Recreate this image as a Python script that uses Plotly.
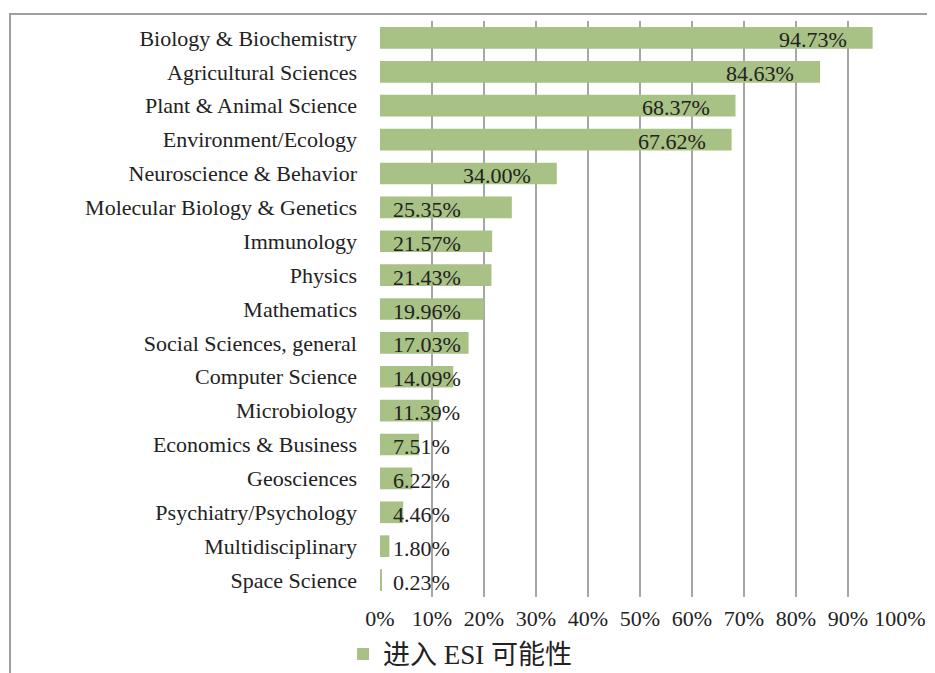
import plotly.graph_objects as go

categories = ["Biology & Biochemistry", "Agricultural Sciences", "Plant & Animal Science",
              "Environment/Ecology", "Neuroscience & Behavior", "Molecular Biology & Genetics",
              "Immunology", "Physics", "Mathematics", "Social Sciences, general",
              "Computer Science", "Microbiology", "Economics & Business", "Geosciences",
              "Psychiatry/Psychology", "Multidisciplinary", "Space Science"]
values = [94.73, 84.63, 68.37, 67.62, 34.00, 25.35, 21.57, 21.43, 19.96, 17.03,
          14.09, 11.39, 7.51, 6.22, 4.46, 1.80, 0.23]
tick_vals = [0, 10, 20, 30, 40, 50, 60, 70, 80, 90, 100]
tick_text = ["0%", "10%", "20%", "30%", "40%", "50%", "60%", "70%", "80%", "90%", "100%"]
series_name = "进入 ESI 可能性"

FONT = "Liberation Serif, Times New Roman, Noto Sans CJK SC, serif"
BAR = "#A8C185"
GRID = "#A6A6A6"

fig = go.Figure()
fig.add_trace(go.Bar(
    y=categories, x=values, orientation="h", name=series_name,
    marker=dict(color=BAR, line=dict(width=0)),
    showlegend=True,
))

annotations = []
for c, v in zip(categories, values):
    if v > 30:
        annotations.append(dict(x=v - 4.6, y=c, xref="x", yref="y", text=f"{v:.2f}%",
                                showarrow=False, xanchor="right", yshift=-2,
                                font=dict(family=FONT, size=22, color="#222222")))
    else:
        annotations.append(dict(x=2.2, y=c, xref="x", yref="y", text=f"{v:.2f}%",
                                showarrow=False, xanchor="left", yshift=-2,
                                font=dict(family=FONT, size=22, color="#222222")))

fig.update_layout(
    width=935, height=673,
    margin=dict(l=372, r=43, t=13, b=84, autoexpand=False),
    paper_bgcolor="white", plot_bgcolor="white",
    bargap=0.36,
    font=dict(family=FONT, size=22, color="#222222"),
    xaxis=dict(range=[0, 100], tickvals=tick_vals, ticktext=tick_text,
               showgrid=True, gridcolor=GRID, gridwidth=2, zeroline=False,
               showline=False, ticks="", ticklabelstandoff=6, automargin=False,
               tickfont=dict(family=FONT, size=22, color="#222222"), fixedrange=True),
    yaxis=dict(autorange="reversed", showgrid=False, zeroline=False, showline=False,
               ticks="", ticklabelstandoff=22, automargin=False,
               tickfont=dict(family=FONT, size=22, color="#222222")),
    legend=dict(orientation="h", x=-0.071, y=-0.057, xanchor="left", yanchor="top",
                font=dict(family=FONT, size=27, color="#222222"),
                bgcolor="rgba(0,0,0,0)", itemwidth=30),
    annotations=annotations,
    shapes=[dict(type="rect", xref="paper", yref="paper",
                 x0=-0.7115, x1=1.3, y0=-0.4, y1=1.0122,
                 line=dict(color="#A0A0A0", width=2), fillcolor="rgba(0,0,0,0)",
                 layer="below")],
)

fig.write_html("out.html")
